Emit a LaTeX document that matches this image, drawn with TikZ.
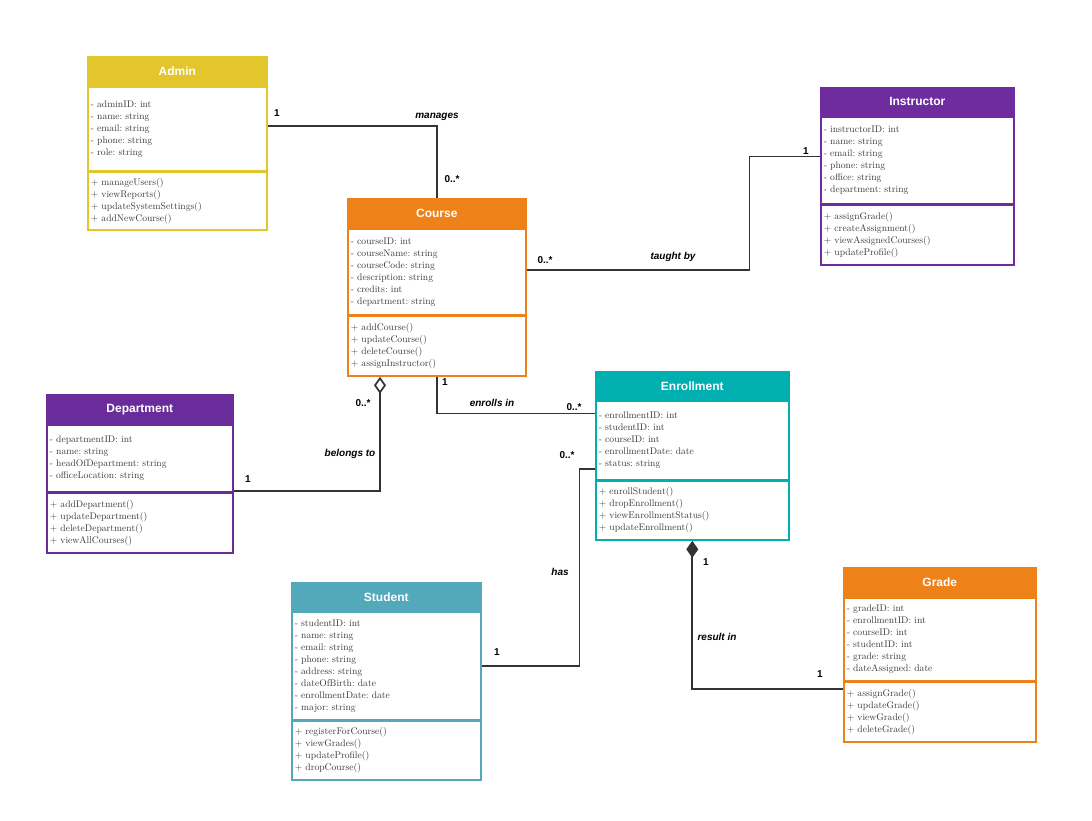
\documentclass[tikz,border=0pt]{standalone}
\usepackage{fontspec}
\newfontfamily\hdrfont{Liberation Sans}
\usepackage{tikz}
\usetikzlibrary{arrows.meta,positioning}

\definecolor{adminYellow}{HTML}{E3C62B}
\definecolor{instrPurple}{HTML}{6E2C9E}
\definecolor{deptPurple}{HTML}{6A2C9B}
\definecolor{courseOrange}{HTML}{EE8219}
\definecolor{enrollTeal}{HTML}{02AFB0}
\definecolor{studentBlue}{HTML}{53A8BA}
\definecolor{textGray}{HTML}{3A3A3A}
\definecolor{lineGray}{HTML}{333333}

\tikzset{
  classhead/.style={anchor=north west, minimum height=29pt, inner sep=0pt,
    text=white, line width=1.6pt, font=\hdrfont\bfseries\fontsize{12}{14}\selectfont},
  classbody/.style={anchor=north west, inner xsep=3pt, inner ysep=0pt, align=left,
    fill=white, text=textGray, line width=1.6pt, font=\frenchspacing\fontsize{9.6}{12}\selectfont},
  assoc/.style={draw=lineGray, line width=1.7pt},
  mult/.style={text=black, font=\hdrfont\bfseries\fontsize{10}{12}\selectfont},
  role/.style={text=black, font=\hdrfont\bfseries\itshape\fontsize{10}{12}\selectfont}
}

\begin{document}
\begin{tikzpicture}[x=1pt,y=-1pt]
    \useasboundingbox (0,0) rectangle (1092,821);

    % Admin
    \node[classhead, fill=adminYellow, draw=adminYellow, minimum width=179pt] (adminH) at (87,56) {Admin};
    \node[classbody, draw=adminYellow, text width=173pt, minimum height=83pt] (adminA) at (adminH.south west)
        {- adminID: int\\- name: string\\- email: string\\- phone: string\\- role: string};
    \node[classbody, draw=adminYellow, text width=173pt, minimum height=58pt] (adminM) at (adminA.south west)
        {+ manageUsers()\\+ viewReports()\\+ updateSystemSettings()\\+ addNewCourse()};

    % Instructor
    \node[classhead, fill=instrPurple, draw=instrPurple, minimum width=193pt, minimum height=28pt] (instrH) at (820,87) {Instructor};
    \node[classbody, draw=instrPurple, text width=187pt, minimum height=86pt] (instrA) at (instrH.south west)
        {- instructorID: int\\- name: string\\- email: string\\- phone: string\\- office: string\\- department: string};
    \node[classbody, draw=instrPurple, text width=187pt, minimum height=60pt] (instrM) at (instrA.south west)
        {+ assignGrade()\\+ createAssignment()\\+ viewAssignedCourses()\\+ updateProfile()};

    % Course
    \node[classhead, fill=courseOrange, draw=courseOrange, minimum width=178pt] (courseH) at (347,198) {Course};
    \node[classbody, draw=courseOrange, text width=172pt, minimum height=85pt] (courseA) at (courseH.south west)
        {- courseID: int\\- courseName: string\\- courseCode: string\\- description: string\\- credits: int\\- department: string};
    \node[classbody, draw=courseOrange, text width=172pt, minimum height=60pt] (courseM) at (courseA.south west)
        {+ addCourse()\\+ updateCourse()\\+ deleteCourse()\\+ assignInstructor()};

    % Department
    \node[classhead, fill=deptPurple, draw=deptPurple, minimum width=186pt] (deptH) at (46,394) {Department};
    \node[classbody, draw=deptPurple, text width=180pt, minimum height=66pt] (deptA) at (deptH.south west)
        {- departmentID: int\\- name: string\\- headOfDepartment: string\\- officeLocation: string};
    \node[classbody, draw=deptPurple, text width=180pt, minimum height=60pt] (deptM) at (deptA.south west)
        {+ addDepartment()\\+ updateDepartment()\\+ deleteDepartment()\\+ viewAllCourses()};

    % Enrollment
    \node[classhead, fill=enrollTeal, draw=enrollTeal, minimum width=193pt, minimum height=28pt] (enrollH) at (595,371) {Enrollment};
    \node[classbody, draw=enrollTeal, text width=187pt, minimum height=78pt] (enrollA) at (enrollH.south west)
        {- enrollmentID: int\\- studentID: int\\- courseID: int\\- enrollmentDate: date\\- status: string};
    \node[classbody, draw=enrollTeal, text width=187pt, minimum height=59pt] (enrollM) at (enrollA.south west)
        {+ enrollStudent()\\+ dropEnrollment()\\+ viewEnrollmentStatus()\\+ updateEnrollment()};

    % Student
    \node[classhead, fill=studentBlue, draw=studentBlue, minimum width=189pt, minimum height=28pt] (studH) at (291,582) {Student};
    \node[classbody, draw=studentBlue, text width=183pt, minimum height=107pt] (studA) at (studH.south west)
        {- studentID: int\\- name: string\\- email: string\\- phone: string\\- address: string\\- dateOfBirth: date\\- enrollmentDate: date\\- major: string};
    \node[classbody, draw=studentBlue, text width=183pt, minimum height=59pt] (studM) at (studA.south west)
        {+ registerForCourse()\\+ viewGrades()\\+ updateProfile()\\+ dropCourse()};

    % Grade
    \node[classhead, fill=courseOrange, draw=courseOrange, minimum width=192pt] (gradeH) at (843,567) {Grade};
    \node[classbody, draw=courseOrange, text width=186pt, minimum height=82pt] (gradeA) at (gradeH.south west)
        {- gradeID: int\\- enrollmentID: int\\- courseID: int\\- studentID: int\\- grade: string\\- dateAssigned: date};
    \node[classbody, draw=courseOrange, text width=186pt, minimum height=60pt] (gradeM) at (gradeA.south west)
        {+ assignGrade()\\+ updateGrade()\\+ viewGrade()\\+ deleteGrade()};

    % Associations
    \draw[assoc] ([yshift=3pt]adminA.east) -| (courseH.north);
    \draw[assoc] ([yshift=2pt]courseA.east) -- ++(223,0) |- ([yshift=4pt]instrA.west);
    \draw[assoc, {Diamond[fill=white, length=17pt, width=12pt]}-] ([xshift=33pt]courseM.south west) |- ([yshift=1pt]deptM.north east);
    \draw[assoc] (courseM.south) |- ([yshift=27pt]enrollA.west);
    \draw[assoc] (studA.east) -- ++(98,0) |- ([yshift=11pt]enrollA.south west);
    \draw[assoc, {Diamond[fill=lineGray, length=17pt, width=12pt]}-] (enrollM.south) |- ([yshift=-8pt]gradeM.north west);

    % Labels
    \node[mult] (m1) at (277,113) {1};
    \node[role] (r1) at (437,117) {manages};
    \node[mult] (m2) at (452,179) {0..*};
    \node[mult] (m3) at (545,260) {0..*};
    \node[role] (r2) at (673,257) {taught by};
    \node[mult] (m4) at (806,151) {1};
    \node[mult] (m5) at (363,403) {0..*};
    \node[role] (r3) at (350,454) {belongs to};
    \node[mult] (m6) at (248,479) {1};
    \node[mult] (m7) at (445,382) {1};
    \node[role] (r4) at (492,403) {enrolls in};
    \node[mult] (m8) at (574,407) {0..*};
    \node[mult] (m9) at (567,455) {0..*};
    \node[role] (r5) at (560,572) {has};
    \node[mult] (m10) at (497,652) {1};
    \node[mult] (m11) at (706,562) {1};
    \node[role] (r6) at (717,637) {result in};
    \node[mult] (m12) at (820,674) {1};
\end{tikzpicture}
\end{document}
